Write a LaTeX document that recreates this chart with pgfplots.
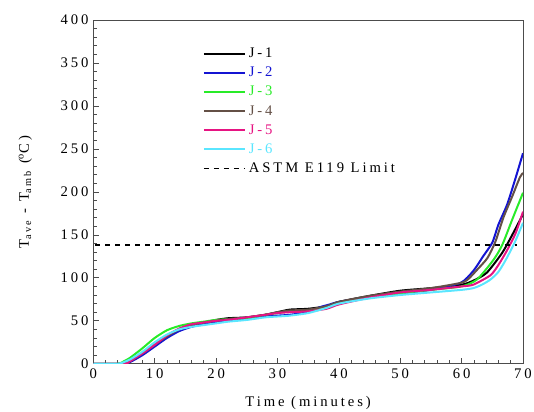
\documentclass[border=0pt]{standalone}
\usepackage{fontspec}
\setmainfont{Liberation Serif}[LetterSpace=20]
\usepackage{pgfplots}
\pgfplotsset{compat=1.18}
\definecolor{jblue}{RGB}{20,20,210}
\definecolor{jgreen}{RGB}{40,235,40}
\definecolor{jbrown}{RGB}{100,80,70}
\definecolor{jmag}{RGB}{230,20,130}
\definecolor{jcyan}{RGB}{90,230,255}
\begin{document}
\begin{tikzpicture}
\begin{axis}[
    name=ax,
    scale only axis,
    width=322.5pt, height=258pt,
    xmin=0, xmax=70, ymin=0, ymax=400,
    xtick={0,10,...,70}, ytick={0,50,...,400},
    minor x tick num=4, minor y tick num=4,
    tick align=inside,
    xtick pos=bottom, ytick pos=left,
    major tick length=4.5pt, minor tick length=2.5pt,
    axis line style={black!70, line width=0.6pt},
    every tick/.style={black!70, line width=0.5pt},
    tick label style={font=\fontsize{11}{13}\selectfont},
    /pgf/number format/assume math mode=true,
    label style={font=\fontsize{11}{13}\selectfont},
    xlabel={Time (minutes)},
    ylabel={T\textsubscript{ave} - T\textsubscript{amb} (\textsuperscript{o}C)},
    xlabel style={at={(axis description cs:0.5,-0.113)}, anchor=center},
    ylabel style={at={(axis description cs:-0.158,0.5)}, anchor=center},
    legend style={draw=none, fill=none, at={(0.245,0.935)}, anchor=north west,
        row sep=1.6pt, font=\fontsize{11}{13}\selectfont, cells={anchor=west}},
    legend image code/.code={\draw[#1] (0pt,0pt) -- (31pt,0pt);},
    every axis plot/.append style={line width=1.5pt, smooth, tension=0.4},
]
% J-1
\addplot[black] coordinates {
(0,0) (5,0) (6,3) (8,12) (10,22) (12,32) (14,40) (16,45) (18,48) (20,51)
(22,53) (25,54) (28,57) (30,60) (32,63) (35,64) (38,67) (40,72) (45,79)
(50,85) (55,88) (60,92) (62,97) (64.1,106) (66.6,129) (68.4,152) (70,174)};
\addlegendentry{J-1}
% J-2
\addplot[jblue] coordinates {
(0,0) (5,0) (6,2) (8,10) (10,20) (12,30) (14,38) (16,43) (18,46) (20,48)
(22,50) (25,52) (28,55) (30,56) (32,57) (35,60) (37,66) (38.5,69) (40,72)
(45,78) (50,82) (55,86) (59.8,94) (61.9,108) (63.5,125) (65,141)
(66,162) (67.4,185) (68.7,214) (70,245)};
\addlegendentry{\textcolor{jblue}{J-2}}
% J-3
\addplot[jgreen] coordinates {
(0,0) (4,0) (5,3) (6,7) (8,18) (10,30) (12,39) (14,44) (16,47) (18,49)
(20,51) (22,52) (25,53) (28,57) (30,59) (32,61) (35,62) (38,66) (40,71)
(45,77) (50,82) (55,86) (60,90) (62.5,98) (65.2,121) (66.6,138) (68.2,167) (70,199)};
\addlegendentry{\textcolor{jgreen}{J-3}}
% J-4
\addplot[jbrown] coordinates {
(0,0) (5,0) (6,3) (8,12) (10,22) (12,32) (14,40) (16,45) (18,48) (20,50)
(22,52) (25,54) (28,57) (30,60) (32,62) (35,63) (38,67) (40,72) (45,79)
(50,84) (55,88) (59.8,94) (61,98) (62.6,110) (64.2,123) (65.5,142)
(66.8,170) (68.2,194) (69.5,217) (70,222)};
\addlegendentry{\textcolor{jbrown}{J-4}}
% J-5
\addplot[jmag] coordinates {
(0,0) (5,0) (6,3) (8,12) (10,22) (12,33) (14,41) (16,46) (18,48) (20,50)
(22,51) (25,54) (28,57) (30,59) (32,60) (35,61) (38,64) (40,69) (45,77)
(50,83) (55,86) (60,90) (61.9,92) (64.7,103) (66,115) (67.4,132) (68.8,152) (70,177)};
\addlegendentry{\textcolor{jmag}{J-5}}
% J-6
\addplot[jcyan] coordinates {
(0,0) (4,0) (5,2) (6,5) (8,14) (10,25) (12,34) (14,40) (16,43) (18,45)
(20,47) (22,49) (25,51) (28,54) (30,55) (32,56) (35,59) (38,65) (40,70)
(45,76) (50,80) (55,83) (60,86) (61.9,88) (63.3,92) (64.7,98) (66,107)
(67.2,121) (68.7,142) (70,164)};
\addlegendentry{\textcolor{jcyan}{J-6}}
% limit
\addplot[black, line width=1.3pt, sharp plot, dash pattern=on 4pt off 3.5pt] coordinates {(0.3,138.5) (69,138.5)};
\addlegendentry{ASTM E119 Limit}
\end{axis}
\pgfresetboundingbox
\path ([xshift=-70pt,yshift=-36pt]ax.south west) rectangle ([xshift=8.25pt,yshift=15pt]ax.north east);
\end{tikzpicture}
\end{document}
